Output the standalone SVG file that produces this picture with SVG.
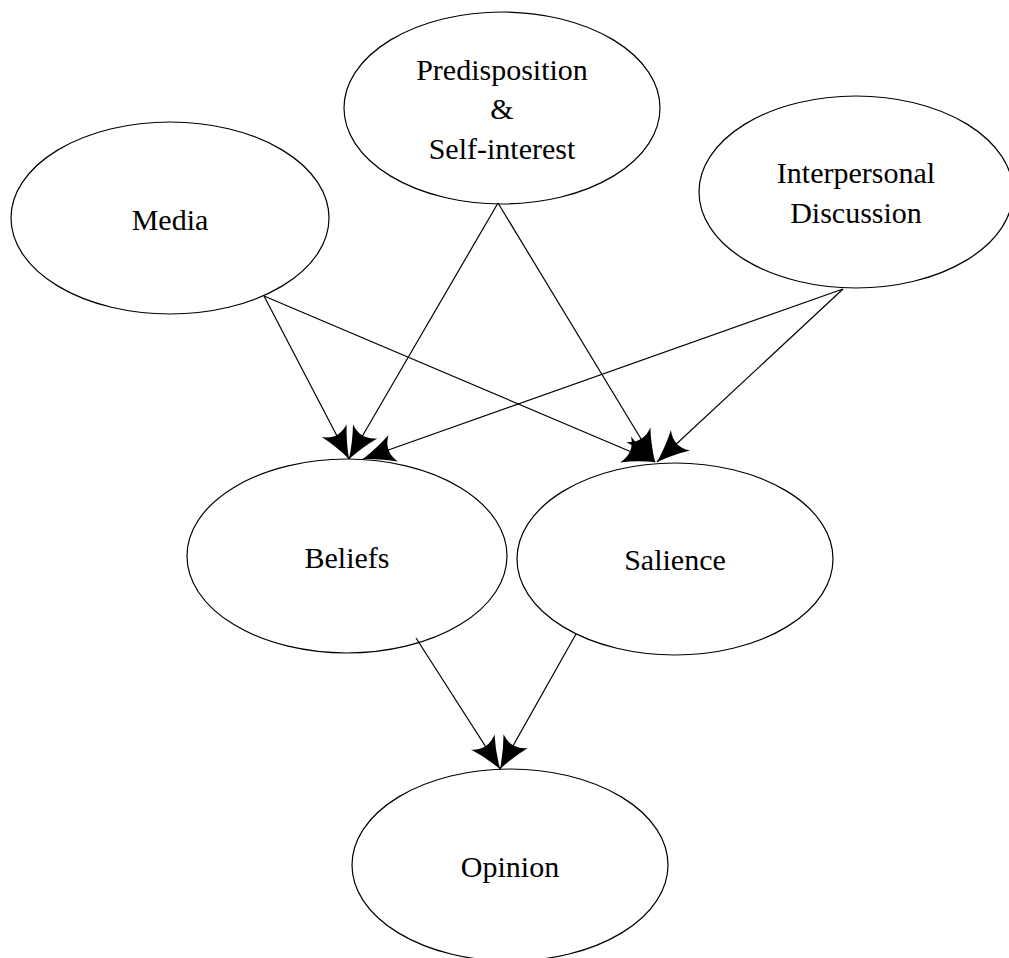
<svg xmlns="http://www.w3.org/2000/svg" width="1009" height="958" viewBox="0 0 1009 958">
<style>
.node ellipse{fill:#fff;stroke:#000;stroke-width:1.2}
.node text{font-family:"Liberation Serif","Times New Roman",serif;font-size:30px;fill:#000;text-anchor:middle}
.edge{fill:none;stroke:#000;stroke-width:1.2;marker-end:url(#arr)}
</style>
<defs>
<marker id="arr" markerUnits="userSpaceOnUse" markerWidth="38" markerHeight="34" viewBox="-36 -17 38 34" refX="0" refY="0" orient="auto">
<path d="M0,0 Q-18,-6 -32,-14 Q-22,0 -32,14 Q-18,6 0,0 Z" fill="#000"/>
</marker>
</defs>
<rect width="1009" height="958" fill="#fff"/>
<g id="n-media" class="node"><ellipse cx="170" cy="218" rx="159" ry="96"/><text x="170" y="230">Media</text></g>
<g id="n-predisposition" class="node"><ellipse cx="502" cy="108" rx="158" ry="96"/><text x="502" y="80">Predisposition</text><text x="502" y="119">&amp;</text><text x="502" y="159">Self-interest</text></g>
<g id="n-interpersonal" class="node"><ellipse cx="856" cy="192" rx="157" ry="96"/><text x="856" y="183">Interpersonal</text><text x="856" y="223">Discussion</text></g>
<g id="n-beliefs" class="node"><ellipse cx="347" cy="556" rx="160" ry="97"/><text x="347" y="568">Beliefs</text></g>
<g id="n-salience" class="node"><ellipse cx="675" cy="559" rx="158" ry="96"/><text x="675" y="570">Salience</text></g>
<g id="n-opinion" class="node"><ellipse cx="510" cy="865" rx="158" ry="96"/><text x="510" y="877">Opinion</text></g>
<g id="connectors">
<path class="edge" d="M264,296 L349,459"/>
<path class="edge" d="M264,296 L655,462"/>
<path class="edge" d="M498,203 L349,459"/>
<path class="edge" d="M498,203 L655,462"/>
<path class="edge" d="M843,289 L363,459"/>
<path class="edge" d="M843,289 L657,462"/>
<path class="edge" d="M416,638 L500,769"/>
<path class="edge" d="M576,634 L500,769"/>
</g>
</svg>
